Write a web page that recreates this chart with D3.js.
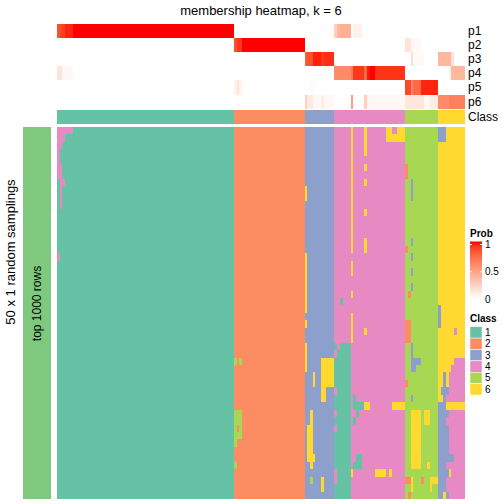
<!DOCTYPE html>
<html><head><meta charset="utf-8">
<script src="https://cdn.jsdelivr.net/npm/d3@7"></script>
<style>
body{margin:0;background:#fff}
svg{display:block}
text{font-family:"Liberation Sans",Arial,Helvetica,sans-serif;fill:#000}
</style>
</head><body>
<svg id="chart" width="504" height="504"></svg>
<script>
// ---------------- data ----------------
const title = "membership heatmap, k = 6";
const probRows = ["p1","p2","p3","p4","p5","p6"];
const classLabels = ["1","2","3","4","5","6"];
const classColors = ["#66c2a5","#fc8d62","#8da0cb","#e78ac3","#a6d854","#ffd92f"];
const nSamplings = 50;
// consensus class of each of the 150 columns (samples)
const sampleClass =
  "1111111111" + "1111111111" + "1111111111" + "1111111111" + "1111111111" + "1111111111" + "11111" +
  "2222222222" + "2222222222" + "222222" +
  "33333333333" +
  "4444444444" + "4444444444" + "444444" +
  "555555555555" +
  "6666666666";
// membership probabilities: [firstCol, lastCol, value] (unlisted cells are 0)
const p1 = [[0,0,0.85],[1,1,0.88],[2,2,0.9],[3,5,0.96],[6,64,1],[102,102,0.25],[103,103,0.38],[104,107,0.42],[109,111,0.08]];
const p2 = [[65,65,0.85],[66,67,0.92],[68,90,1],[128,129,0.15],[130,133,0.04]];
const p3 = [[91,91,0.8],[92,93,0.85],[94,96,0.97],[97,97,0.92],[98,101,0.94],[130,130,0.18],[131,134,0.03],[140,144,0.38],[145,145,0.15]];
const p4 = [[0,1,0.15],[2,5,0.04],[102,107,0.6],[108,108,0.68],[109,112,0.92],[113,113,0.75],[114,114,0.98],[115,116,1],[117,127,0.93],[144,144,0.08],[145,149,0.38]];
const p5 = [[65,65,0.08],[66,66,0.15],[67,67,0.06],[93,93,0.03],[128,129,0.87],[130,130,0.62],[131,133,0.75],[134,139,0.96]];
const p6 = [[91,91,0.25],[92,93,0.12],[94,96,0.04],[97,97,0.09],[98,101,0.04],[108,108,0.5],[113,113,0.25],[114,127,0.04],[128,134,0.13],[135,136,0.04],[137,139,0.1],[140,143,0.6],[144,149,0.65]];
// class of each sampling where it differs from the consensus: [firstRow, lastRow, firstCol, lastCol, class]
const samplingDiffs = [
  [0,0,0,5,4],[1,1,0,2,4],[2,2,0,1,4],[3,4,0,0,4],[5,6,0,1,4],[7,7,1,2,4],[8,10,1,1,4],[17,17,0,0,4],
  [31,31,65,65,5],[31,31,67,67,5],[38,39,65,67,5],[40,40,65,65,5],[40,40,67,67,5],[41,41,65,67,5],[42,42,65,65,5],[45,45,65,65,5],
  [8,9,91,91,6],[17,24,91,91,6],[26,26,91,91,6],[29,32,91,91,6],[33,34,94,94,6],[31,34,97,101,6],[35,36,97,98,6],
  [38,45,93,93,6],[40,44,92,92,6],[44,44,94,94,6],[47,47,93,93,5],[47,48,97,97,6],
  [0,16,108,108,6],[18,19,108,108,6],[22,22,108,108,6],[25,28,108,108,6],[46,46,108,108,6],
  [0,3,113,113,6],[5,5,113,113,6],[7,7,113,113,6],[11,11,113,113,6],[15,16,113,113,6],[27,27,113,113,6],
  [0,1,121,127,6],[0,0,123,124,4],[23,23,104,104,1],
  [29,49,102,107,1],[29,29,103,103,4],[30,30,102,102,4],[35,35,102,102,4],[38,38,102,102,4],[40,40,102,102,4],[46,47,102,102,4],
  [36,37,109,109,1],[37,37,110,112,1],[37,37,113,114,6],[37,37,123,127,6],[38,38,110,110,1],[39,39,109,109,1],
  [44,44,110,111,1],[45,45,109,111,1],[46,46,117,120,6],[46,46,122,122,6],
  [5,6,128,128,2],[7,9,130,130,3],[15,15,130,130,3],[16,16,128,128,2],[17,17,130,130,3],[19,19,130,130,3],[21,21,130,130,3],[22,22,129,129,2],
  [26,28,128,129,2],[29,32,130,130,3],[31,31,130,133,3],[32,32,130,131,3],[34,34,128,128,2],[36,36,130,130,3],
  [38,45,130,133,6],[38,39,135,136,6],[45,45,136,136,6],
  [47,47,128,129,2],[47,48,130,130,6],[47,47,134,134,2],[47,47,137,139,6],[48,48,137,137,6],[49,49,129,129,2],
  [0,1,140,142,3],[24,26,140,140,3],[27,27,146,146,4],
  [31,31,146,149,4],[32,32,145,149,4],[33,34,142,142,3],[33,34,144,149,4],
  [35,35,141,143,3],[35,35,144,149,4],[36,36,142,142,3],[36,36,143,149,4],
  [37,37,140,142,3],[38,38,140,143,3],[38,38,144,149,4],[39,39,140,142,3],[39,39,143,149,4],
  [40,43,140,143,3],[40,43,144,149,4],[44,44,140,145,3],[44,44,146,149,4],[45,45,140,142,3],[45,45,143,149,4],
  [46,46,140,143,3],[46,46,145,149,4],[47,48,140,142,3],[47,48,143,149,4],
  [49,49,140,141,3],[49,49,143,143,3],[49,49,144,149,4]
];
const probTicks = [0, 0.5, 1];
const leftLabel = "50 x 1 random samplings";
const barLabel = "top 1000 rows";

// ---------------- build tables ----------------
const nCols = sampleClass.length;
const probSpecs = [p1,p2,p3,p4,p5,p6];
const probMatrix = probSpecs.map(spec => {
  const row = new Array(nCols).fill(0);
  spec.forEach(([a,b,v]) => { for (let c=a;c<=b;c++) row[c]=v; });
  return row;
});
const membership = d3.range(nSamplings).map(() => sampleClass.split("").map(Number));
samplingDiffs.forEach(([r0,r1,c0,c1,k]) => {
  for (let r=r0;r<=r1;r++) for (let c=c0;c<=c1;c++) membership[r][c]=k;
});

// ---------------- scales ----------------
const svg = d3.select("#chart");
const x = d3.scaleBand().domain(d3.range(nCols)).range([57,465]);
const yProb = d3.scaleBand().domain(probRows).range([24,108.6]);
const yMain = d3.scaleBand().domain(d3.range(nSamplings)).range([126.7,499]);
const classRowY = [110.2,124.3];
const probColor = d3.scaleLinear().domain([0,1]).range(["#ffffff","#ff0000"]).interpolate(d3.interpolateLab);
const classColor = d3.scaleOrdinal().domain([1,2,3,4,5,6]).range(classColors);

function runs(values){
  const out=[]; let s=0;
  for (let c=1;c<=values.length;c++){
    if (c===values.length || values[c]!==values[s]){ out.push({c0:s,c1:c-1,v:values[s]}); s=c; }
  }
  return out;
}
const bw = x.bandwidth();

// title
svg.append("text").attr("x",261).attr("y",14.5).attr("text-anchor","middle")
  .style("font-size","13px").text(title);

// probability annotation rows
const gProb = svg.append("g").attr("shape-rendering","crispEdges");
probRows.forEach((name,i) => {
  gProb.selectAll(null).data(runs(probMatrix[i])).enter().append("rect")
    .attr("x",d=>x(d.c0)).attr("width",d=>x(d.c1)+bw-x(d.c0))
    .attr("y",yProb(name)).attr("height",yProb.bandwidth())
    .attr("fill",d=>probColor(d.v));
  svg.append("text").attr("x",468).attr("y",yProb(name)+yProb.bandwidth()/2)
    .attr("dominant-baseline","central").style("font-size","12px").text(name);
});

// class annotation row
const gClass = svg.append("g").attr("shape-rendering","crispEdges");
gClass.selectAll(null).data(runs(sampleClass.split("").map(Number))).enter().append("rect")
  .attr("x",d=>x(d.c0)).attr("width",d=>x(d.c1)+bw-x(d.c0))
  .attr("y",classRowY[0]).attr("height",classRowY[1]-classRowY[0])
  .attr("fill",d=>classColor(d.v));
svg.append("text").attr("x",468).attr("y",(classRowY[0]+classRowY[1])/2)
  .attr("dominant-baseline","central").style("font-size","12px").text("Class");

// main heatmap
const gMain = svg.append("g").attr("shape-rendering","crispEdges");
membership.forEach((row,r) => {
  gMain.selectAll(null).data(runs(row)).enter().append("rect")
    .attr("x",d=>x(d.c0)).attr("width",d=>x(d.c1)+bw-x(d.c0))
    .attr("y",yMain(r)).attr("height",yMain.bandwidth())
    .attr("fill",d=>classColor(d.v));
});

// left bar + labels
svg.append("rect").attr("x",22.7).attr("y",126.7).attr("width",28).attr("height",499-126.7)
  .attr("fill","#7fc97f").attr("shape-rendering","crispEdges");
svg.append("text").attr("transform","translate(37,303.5) rotate(-90)")
  .attr("text-anchor","middle").attr("dominant-baseline","central")
  .style("font-size","12px").text(barLabel);
svg.append("text").attr("transform","translate(10,252) rotate(-90)")
  .attr("text-anchor","middle").attr("dominant-baseline","central")
  .style("font-size","13px").text(leftLabel);

// Prob legend
const lg = svg.append("g");
lg.append("text").attr("x",470).attr("y",237).style("font-size","10px").style("font-weight","bold").text("Prob");
const defs = svg.append("defs");
const grad = defs.append("linearGradient").attr("id","pg").attr("x1",0).attr("x2",0).attr("y1",1).attr("y2",0);
d3.range(0,1.0001,0.1).forEach(t => grad.append("stop").attr("offset",t).attr("stop-color",probColor(t)));
const legY = d3.scaleLinear().domain([0,1]).range([299,244.5]);
lg.append("rect").attr("x",470).attr("y",241.5).attr("width",12).attr("height",57.5).attr("fill","url(#pg)");
probTicks.forEach(t => {
  lg.append("line").attr("x1",470).attr("x2",472).attr("y1",legY(t)).attr("y2",legY(t)).attr("stroke","#fff").attr("stroke-width",1);
  lg.append("line").attr("x1",480).attr("x2",482).attr("y1",legY(t)).attr("y2",legY(t)).attr("stroke","#fff").attr("stroke-width",1);
  lg.append("text").attr("x",485).attr("y",legY(t)).attr("dominant-baseline","central").style("font-size","10px").text(t);
});

// Class legend
const cl = svg.append("g");
cl.append("text").attr("x",470).attr("y",322).style("font-size","10px").style("font-weight","bold").text("Class");
const legClassY = d3.scaleBand().domain(classLabels).range([326.7,395]);
classLabels.forEach((lab,i) => {
  cl.append("rect").attr("x",470).attr("y",legClassY(lab)).attr("width",12).attr("height",legClassY.bandwidth())
    .attr("fill",classColors[i]).attr("stroke","#fff").attr("stroke-width",0.5);
  cl.append("text").attr("x",485).attr("y",legClassY(lab)+legClassY.bandwidth()/2)
    .attr("dominant-baseline","central").style("font-size","10px").text(lab);
});
</script>
</body></html>
